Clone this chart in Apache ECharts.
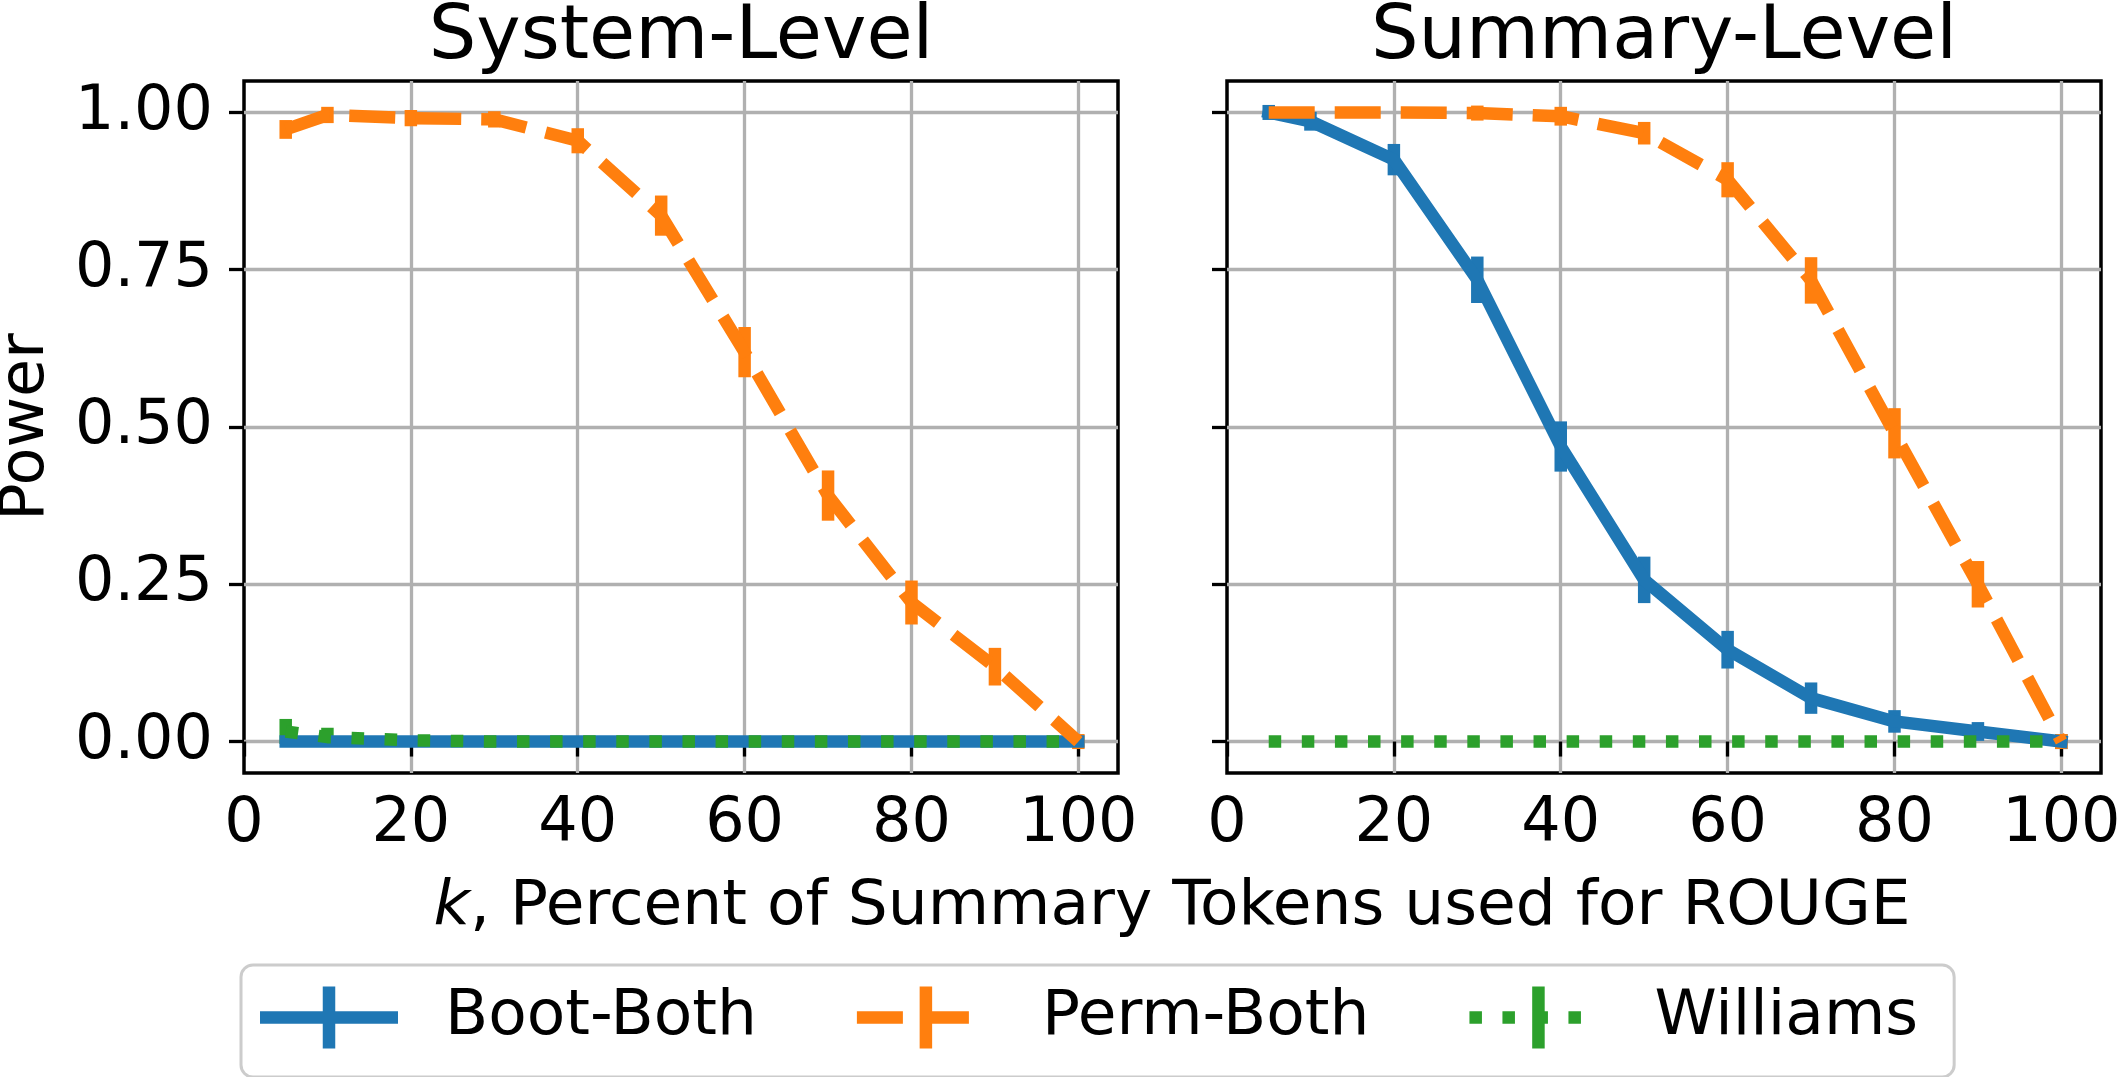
<!DOCTYPE html>
<html>
<head>
<meta charset="utf-8">
<script src="https://cdn.jsdelivr.net/npm/echarts@6/dist/echarts.min.js"></script>
<style>
html, body { margin: 0; padding: 0; background: #fff; }
#chart { width: 2118px; height: 1077px; }
</style>
</head>
<body>
<div id="chart"></div>
<script>
// k, percent of summary tokens
var kValues = [5, 10, 20, 30, 40, 50, 60, 70, 80, 90, 100];

// System-Level panel
var sysBoot     = [0, 0, 0, 0, 0, 0, 0, 0, 0, 0, 0];
var sysBootErr  = [0, 0, 0, 0, 0, 0, 0, 0, 0, 0, 0];
var sysPerm     = [0.973, 0.996, 0.991, 0.989, 0.955, 0.836, 0.619, 0.391, 0.221, 0.119, 0.0];
var sysPermErr  = [0.005, 0.003, 0.003, 0.003, 0.010, 0.022, 0.030, 0.030, 0.025, 0.020, 0.002];
var sysWill     = [0.016, 0.007, 0.002, 0, 0, 0, 0, 0, 0, 0, 0];
var sysWillErr  = [0.010, 0.005, 0, 0, 0, 0, 0, 0, 0, 0, 0];

// Summary-Level panel
var sumBoot     = [1.0, 0.986, 0.925, 0.734, 0.469, 0.257, 0.146, 0.069, 0.032, 0.016, 0.0];
var sumBootErr  = [0.002, 0.005, 0.015, 0.027, 0.030, 0.027, 0.020, 0.015, 0.008, 0.005, 0.002];
var sumPerm     = [1.0, 1.0, 1.0, 0.999, 0.994, 0.967, 0.893, 0.733, 0.490, 0.250, 0.0];
var sumPermErr  = [0, 0, 0, 0.002, 0.005, 0.008, 0.018, 0.027, 0.030, 0.027, 0.002];
var sumWill     = [0, 0, 0, 0, 0, 0, 0, 0, 0, 0, 0];
var sumWillErr  = [0, 0, 0, 0, 0, 0, 0, 0, 0, 0, 0];

var xTicks = [0, 20, 40, 60, 80, 100];
var yTicks = [0, 0.25, 0.5, 0.75, 1.0];
var names = ['Boot-Both', 'Perm-Both', 'Williams'];

var FONT = 'DejaVu Sans';
var FS = 62;
var BLUE = '#1f77b4', ORANGE = '#ff7f0e', GREEN = '#2ca02c';
var LW = 12.5;

function pairs(vals) {
    return kValues.map(function (k, i) { return [k, vals[i]]; });
}
function errs(vals, e) {
    return kValues.map(function (k, i) { return [k, vals[i] - e[i], vals[i] + e[i]]; });
}

function lineSeries(name, idx, vals, color, dash, cap) {
    return {
        type: 'line', name: name, xAxisIndex: idx, yAxisIndex: idx,
        data: pairs(vals), showSymbol: false, symbol: 'none',
        lineStyle: { color: color, width: LW, type: dash, cap: cap, join: 'round' },
        itemStyle: { color: color },
        animation: false
    };
}

function errSeries(name, idx, vals, e, color) {
    return {
        type: 'custom', name: name, xAxisIndex: idx, yAxisIndex: idx,
        data: errs(vals, e),
        encode: { x: 0, y: [1, 2] },
        itemStyle: { color: color },
        animation: false,
        renderItem: function (params, api) {
            var x = api.value(0), lo = api.value(1), hi = api.value(2);
            if (hi - lo < 1e-6) return null;
            var p1 = api.coord([x, lo]);
            var p2 = api.coord([x, hi]);
            return {
                type: 'line',
                shape: { x1: p1[0], y1: p1[1], x2: p2[0], y2: p2[1] },
                style: { stroke: color, lineWidth: LW, lineCap: 'square' }
            };
        }
    };
}

function xAxisFor(idx) {
    return {
        type: 'value', gridIndex: idx, min: 0, max: 104.75,
        axisLine: { show: false },
        axisTick: { show: true, inside: false, length: 15, customValues: xTicks,
                    lineStyle: { color: '#000', width: 3.3 } },
        axisLabel: { customValues: xTicks, margin: 21, fontSize: FS, color: '#000', fontFamily: FONT },
        splitLine: { show: true, showMinLine: false, lineStyle: { color: '#b0b0b0', width: 3.3 } }
    };
}

function yAxisFor(idx, labels) {
    var ax = {
        type: 'value', gridIndex: idx, min: -0.05, max: 1.05,
        axisLine: { show: false },
        axisTick: { show: true, inside: false, length: 15, customValues: yTicks,
                    lineStyle: { color: '#000', width: 3.3 } },
        axisLabel: { show: labels, customValues: yTicks, margin: 31, fontSize: FS, color: '#000',
                     fontFamily: FONT, formatter: function (v) { return v.toFixed(2); } },
        splitLine: { show: true, lineStyle: { color: '#b0b0b0', width: 3.3 } }
    };
    if (labels) {
        ax.name = 'Power';
        ax.nameLocation = 'middle';
        ax.nameRotate = 90;
        ax.nameGap = 186;
        ax.nameTextStyle = { fontSize: FS, color: '#000', fontFamily: FONT };
    }
    return ax;
}

function gridAt(left) {
    return {
        left: left, top: 81, width: 874, height: 692,
        show: true, borderColor: '#000', borderWidth: 3.5,
        backgroundColor: '#fff', containLabel: false, outerBoundsMode: 'none'
    };
}

// legend handles: line sample with an error bar through its middle
var iconBoot = 'path://M0 24.75H62.75V0H75.25V24.75H138V37.25H75.25V62H62.75V37.25H0Z';
var iconPerm = 'path://M0 24.75H46V37.25H0Z M66 24.75H112V37.25H66Z M62.75 0H75.25V62H62.75Z M138 37.25';
var iconWill = 'path://M0 24.75H12.5V37.25H0Z M33 24.75H45.5V37.25H33Z M66 24.75H78.5V37.25H66Z M99 24.75H111.5V37.25H99Z M62.75 0H75.25V62H62.75Z M138 37.25';

var titleStyle = { fontSize: 75, fontWeight: 'normal', color: '#000', fontFamily: FONT };

var option = {
    backgroundColor: '#fff',
    animation: false,
    title: [
        { text: 'System-Level', left: 681, top: 1, textAlign: 'center', padding: 0, textStyle: titleStyle },
        { text: 'Summary-Level', left: 1664, top: 1, textAlign: 'center', padding: 0, textStyle: titleStyle },
        {
            text: '{i|k}, Percent of Summary Tokens used for ROUGE',
            left: 1172, top: 876, textAlign: 'center', padding: 0,
            textStyle: {
                fontSize: 63, fontWeight: 'normal', color: '#000', fontFamily: FONT,
                rich: { i: { fontSize: 63, fontStyle: 'italic', color: '#000', fontFamily: FONT } }
            }
        }
    ],
    grid: [gridAt(244), gridAt(1227)],
    xAxis: [xAxisFor(0), xAxisFor(1)],
    yAxis: [yAxisFor(0, true), yAxisFor(1, false)],
    legend: {
        left: 241, top: 965, orient: 'horizontal',
        itemWidth: 138, itemHeight: 62, itemGap: 100,
        padding: [21, 36, 28, 19],
        borderColor: '#cccccc', borderWidth: 3, borderRadius: 12,
        backgroundColor: '#fff',
        itemStyle: { borderWidth: 0 },
        textStyle: { fontSize: 63, color: '#000', fontFamily: FONT, padding: [0, 0, 0, 42] },
        data: [
            { name: names[0], icon: iconBoot },
            { name: names[1], icon: iconPerm },
            { name: names[2], icon: iconWill }
        ]
    },
    series: [
        lineSeries(names[0], 0, sysBoot, BLUE, 'solid', 'square'),
        errSeries(names[0], 0, sysBoot, sysBootErr, BLUE),
        lineSeries(names[1], 0, sysPerm, ORANGE, [46, 20], 'butt'),
        errSeries(names[1], 0, sysPerm, sysPermErr, ORANGE),
        lineSeries(names[2], 0, sysWill, GREEN, [12.5, 20.6], 'butt'),
        errSeries(names[2], 0, sysWill, sysWillErr, GREEN),

        lineSeries(names[0], 1, sumBoot, BLUE, 'solid', 'square'),
        errSeries(names[0], 1, sumBoot, sumBootErr, BLUE),
        lineSeries(names[1], 1, sumPerm, ORANGE, [46, 20], 'butt'),
        errSeries(names[1], 1, sumPerm, sumPermErr, ORANGE),
        lineSeries(names[2], 1, sumWill, GREEN, [12.5, 20.6], 'butt'),
        errSeries(names[2], 1, sumWill, sumWillErr, GREEN)
    ]
};

var myChart = echarts.init(document.getElementById('chart'));
myChart.setOption(option);
</script>
</body>
</html>
